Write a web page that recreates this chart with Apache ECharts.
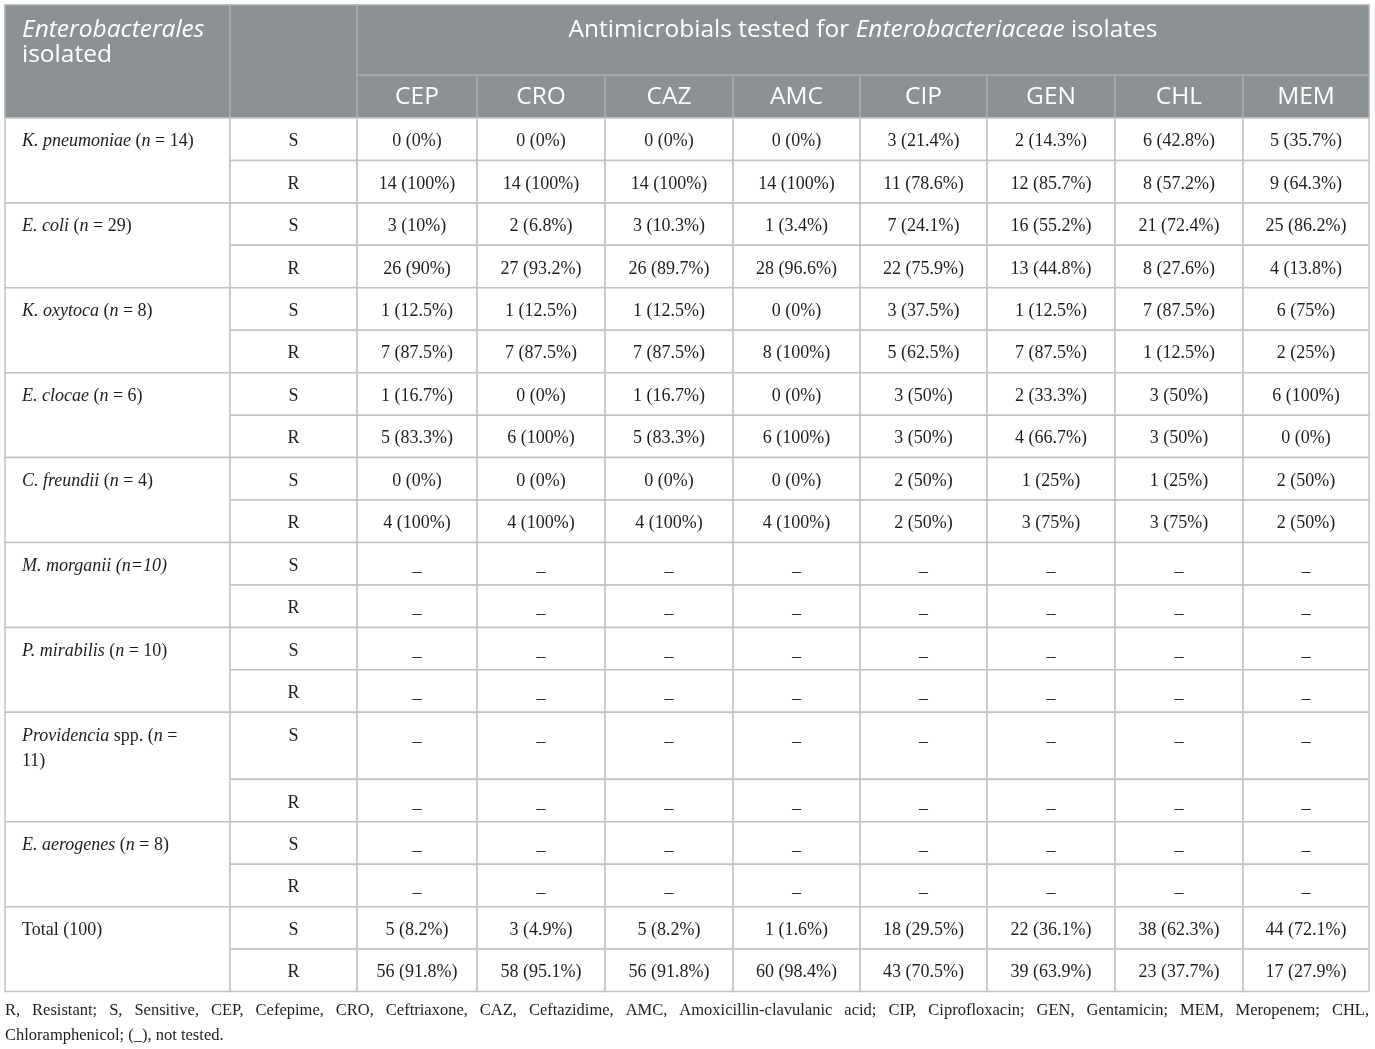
<!DOCTYPE html>
<html lang="en">
<head>
    <meta charset="UTF-8"/>
    <title>Antimicrobial susceptibility of Enterobacterales isolates</title>
    <script src="https://cdn.jsdelivr.net/npm/echarts@6/dist/echarts.min.js"></script>
    <style>
        html, body { margin: 0; padding: 0; background: #fff; }
        #main { width: 1375px; height: 1049px; }
    </style>
</head>
<body>
<div id="main"></div>
<script>
    // ---- data ----
    var drugs = ['CEP', 'CRO', 'CAZ', 'AMC', 'CIP', 'GEN', 'CHL', 'MEM'];

    var isolates = [
        '{i|K. pneumoniae} ({i|n} = 14)',
        '{i|E. coli} ({i|n} = 29)',
        '{i|K. oxytoca} ({i|n} = 8)',
        '{i|E. clocae} ({i|n} = 6)',
        '{i|C. freundii} ({i|n} = 4)',
        '{i|M. morganii (n=10)}',
        '{i|P. mirabilis} ({i|n} = 10)',
        '{i|Providencia} spp. ({i|n} =\n11)',
        '{i|E. aerogenes} ({i|n} = 8)',
        'Total (100)'
    ];

    // null = not tested
    var sCounts = [
        [0, 0, 0, 0, 3, 2, 6, 5],
        [3, 2, 3, 1, 7, 16, 21, 25],
        [1, 1, 1, 0, 3, 1, 7, 6],
        [1, 0, 1, 0, 3, 2, 3, 6],
        [0, 0, 0, 0, 2, 1, 1, 2],
        null, null, null, null,
        [5, 3, 5, 1, 18, 22, 38, 44]
    ];
    var sPercents = [
        [0, 0, 0, 0, 21.4, 14.3, 42.8, 35.7],
        [10, 6.8, 10.3, 3.4, 24.1, 55.2, 72.4, 86.2],
        [12.5, 12.5, 12.5, 0, 37.5, 12.5, 87.5, 75],
        [16.7, 0, 16.7, 0, 50, 33.3, 50, 100],
        [0, 0, 0, 0, 50, 25, 25, 50],
        null, null, null, null,
        [8.2, 4.9, 8.2, 1.6, 29.5, 36.1, 62.3, 72.1]
    ];
    var rCounts = [
        [14, 14, 14, 14, 11, 12, 8, 9],
        [26, 27, 26, 28, 22, 13, 8, 4],
        [7, 7, 7, 8, 5, 7, 1, 2],
        [5, 6, 5, 6, 3, 4, 3, 0],
        [4, 4, 4, 4, 2, 3, 3, 2],
        null, null, null, null,
        [56, 58, 56, 60, 43, 39, 23, 17]
    ];
    var rPercents = [
        [100, 100, 100, 100, 78.6, 85.7, 57.2, 64.3],
        [90, 93.2, 89.7, 96.6, 75.9, 44.8, 27.6, 13.8],
        [87.5, 87.5, 87.5, 100, 62.5, 87.5, 12.5, 25],
        [83.3, 100, 83.3, 100, 50, 66.7, 50, 0],
        [100, 100, 100, 100, 50, 75, 75, 50],
        null, null, null, null,
        [91.8, 95.1, 91.8, 98.4, 70.5, 63.9, 37.7, 27.9]
    ];

    var headCol0 = '{i|Enterobacterales}\nisolated';
    var headGroup = '{n|Antimicrobials tested for }{i|Enterobacteriaceae}{n| isolates}';
    var footLine1 = 'R, Resistant; S, Sensitive, CEP, Cefepime, CRO, Ceftriaxone, CAZ, Ceftazidime, AMC, Amoxicillin-clavulanic acid; CIP, Ciprofloxacin; GEN, Gentamicin; MEM, Meropenem; CHL,';
    var footLine2 = 'Chloramphenicol; (_), not tested.';

    // ---- layout ----
    var colWidths = [225, 127, 120, 128, 128, 127, 127, 128, 128, 126];
    var headHeights = [70, 43];
    var rowH = 42.45, tallRowH = 67;
    var wrappedIsolate = 7;          // name that wraps onto two lines
    var gridLeft = 5, gridTop = 5;

    var serif = '"Liberation Serif", "Times New Roman", serif';
    var sans = '"Open Sans", "Noto Sans", sans-serif';
    var headFill = '#8c9194', headLine = '#a9adb0', bodyLine = '#c2c2c2', ink = '#1e1e1e';
    var headSize = 24.5, bodySize = 18;

    var colEdges = [0];
    colWidths.forEach(function (w) { colEdges.push(colEdges[colEdges.length - 1] + w); });
    var tableW = colEdges[colEdges.length - 1];

    function fmt(c, p) { return c + ' (' + p + '%)'; }

    var cells = [];
    function addCell(c0, c1, y0, y1, text, kind) {
        cells.push({ x0: colEdges[c0], x1: colEdges[c1], y0: y0, y1: y1, text: text, kind: kind });
    }

    // header
    var h0 = 0, h1 = headHeights[0], h2 = headHeights[0] + headHeights[1];
    addCell(0, 1, h0, h2, headCol0, 'headLeft');
    addCell(1, 2, h0, h2, '', 'head');
    addCell(2, 10, h0, h1, headGroup, 'headGroup');
    drugs.forEach(function (d, j) { addCell(j + 2, j + 3, h1, h2, d, 'head'); });

    // body
    var y = h2;
    isolates.forEach(function (name, i) {
        var hs = (i === wrappedIsolate) ? tallRowH : rowH;
        addCell(0, 1, y, y + hs + rowH, name, 'name');
        addCell(1, 2, y, y + hs, 'S', 'val');
        addCell(1, 2, y + hs, y + hs + rowH, 'R', 'val');
        drugs.forEach(function (d, j) {
            var s = sCounts[i] ? fmt(sCounts[i][j], sPercents[i][j]) : '_';
            var r = rCounts[i] ? fmt(rCounts[i][j], rPercents[i][j]) : '_';
            addCell(j + 2, j + 3, y, y + hs, s, 'val');
            addCell(j + 2, j + 3, y + hs, y + hs + rowH, r, 'val');
        });
        y += hs + rowH;
    });
    var tableH = y;

    var bodyRich = {
        i: { fontStyle: 'italic', fontSize: bodySize, fontFamily: serif, fill: ink, lineHeight: 25 }
    };
    var headRich = {
        i: { fontStyle: 'italic', fontSize: headSize, fontFamily: sans, fill: '#fff', lineHeight: 25 },
        n: { fontStyle: 'normal', fontSize: headSize, fontFamily: sans, fill: '#fff', lineHeight: 25 }
    };

    function renderCell(params, api) {
        var c = cells[params.dataIndex];
        var p0 = api.coord([api.value(0), api.value(1)]);
        var p1 = api.coord([api.value(2), api.value(3)]);
        var isHead = c.kind.indexOf('head') === 0;
        var children = [{
            type: 'rect',
            shape: { x: p0[0], y: p0[1], width: p1[0] - p0[0], height: p1[1] - p0[1] },
            style: { fill: isHead ? headFill : '#fff', stroke: isHead ? headLine : bodyLine, lineWidth: 1.5 }
        }];
        if (c.text) {
            var st = {
                text: c.text,
                fontFamily: isHead ? sans : serif,
                fontSize: isHead ? headSize : bodySize,
                fill: isHead ? '#fff' : ink,
                lineHeight: 25,
                rich: isHead ? headRich : bodyRich
            };
            var tx, ty;
            if (c.kind === 'headLeft') {
                st.align = 'left'; st.verticalAlign = 'top';
                tx = p0[0] + 17; ty = p0[1] + 12.5;
            } else if (c.kind === 'headGroup') {
                st.align = 'center'; st.verticalAlign = 'middle';
                tx = (p0[0] + p1[0]) / 2; ty = p0[1] + 25;
            } else if (c.kind === 'head') {
                st.align = 'center'; st.verticalAlign = 'middle';
                tx = (p0[0] + p1[0]) / 2; ty = (p0[1] + p1[1]) / 2 + 1;
            } else if (c.kind === 'name') {
                st.align = 'left'; st.verticalAlign = 'top';
                tx = p0[0] + 17; ty = p0[1] + 11;
            } else {
                st.align = 'center'; st.verticalAlign = 'top';
                tx = (p0[0] + p1[0]) / 2; ty = p0[1] + 11;
            }
            children.push({ type: 'text', x: tx, y: ty, style: st });
        }
        return { type: 'group', children: children };
    }

    // footnote, first line justified to table width
    var footFont = '16.5px ' + serif;
    var ctx = document.createElement('canvas').getContext('2d');
    ctx.font = footFont;
    var words = footLine1.split(' ');
    var wordW = words.map(function (w) { return ctx.measureText(w).width; });
    var sumW = wordW.reduce(function (a, b) { return a + b; }, 0);
    var gap = (tableW - sumW) / (words.length - 1);
    var footY1 = gridTop + tableH + 19.5, footY2 = footY1 + 25;
    var graphics = [];
    var fx = gridLeft;
    words.forEach(function (w, k) {
        graphics.push({ type: 'text', x: fx, y: footY1,
            style: { text: w, font: footFont, fill: ink, verticalAlign: 'middle', align: 'left' } });
        fx += wordW[k] + gap;
    });
    graphics.push({ type: 'text', x: gridLeft, y: footY2,
        style: { text: footLine2, font: footFont, fill: ink, verticalAlign: 'middle', align: 'left' } });

    var myChart = echarts.init(document.getElementById('main'));
    myChart.setOption({
        animation: false,
        grid: { left: gridLeft, top: gridTop, width: tableW, height: tableH },
        xAxis: { type: 'value', min: 0, max: tableW, show: false },
        yAxis: { type: 'value', min: 0, max: tableH, inverse: true, show: false },
        graphic: graphics,
        series: [{
            type: 'custom',
            coordinateSystem: 'cartesian2d',
            clip: false,
            renderItem: renderCell,
            encode: { x: [0, 2], y: [1, 3] },
            data: cells.map(function (c) { return [c.x0, c.y0, c.x1, c.y1]; })
        }]
    });
</script>
</body>
</html>
